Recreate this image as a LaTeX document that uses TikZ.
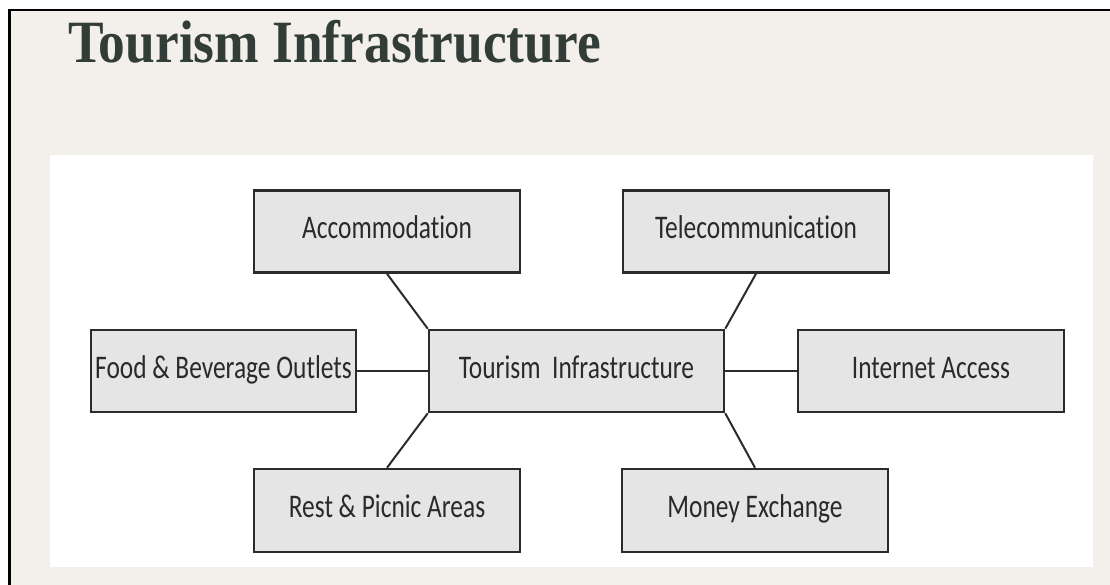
\documentclass[tikz,border=0pt]{standalone}
\usepackage{fontspec}
\newfontfamily\titlefont[FakeStretch=0.89]{Liberation Serif}
\newfontfamily\boxfont[FakeStretch=0.77,Ligatures=NoCommon]{Carlito}
\definecolor{pagebg}{HTML}{F3F0EC}
\definecolor{titlecol}{HTML}{333D37}
\definecolor{boxfill}{HTML}{E5E5E5}
\definecolor{boxline}{HTML}{2B2B2B}
\definecolor{boxtext}{HTML}{2A2A2A}
\tikzset{
  ibox/.style={draw=boxline, fill=boxfill, line width=2.5pt, inner sep=0pt,
    minimum height=82pt, text=boxtext, font=\boxfont\fontsize{33}{33}\selectfont,
    text height=20pt, text depth=5.5pt},
  conn/.style={draw=boxline, line width=2pt}
}
\begin{document}
\begin{tikzpicture}[x=1pt,y=-1pt]
\useasboundingbox (0,0) rectangle (1110,585);
\fill[white] (0,0) rectangle (1110,585);
\fill[pagebg] (9,9) rectangle (1110,585);
\draw[black, line width=2.5pt] (9.5,585) -- (9.5,10) -- (1110,10);
\fill[white] (50,155) rectangle (1093,567);
\node[anchor=base west, inner sep=0pt, text=titlecol, font=\titlefont\bfseries\fontsize{60}{60}\selectfont] (title) at (68,63) {Tourism Infrastructure};
\node[ibox, minimum width=266pt] (acc) at (387,231.5) {Accommodation};
\node[ibox, minimum width=266pt] (tel) at (756,231.5) {Telecommunication};
\node[ibox, minimum width=265pt] (food) at (223.5,371) {Food \& Beverage Outlets};
\node[ibox, minimum width=295pt] (ti) at (576.5,371) {Tourism\ \ Infrastructure};
\node[ibox, minimum width=266pt] (net) at (931,371) {Internet Access};
\node[ibox, minimum width=266pt, minimum height=83pt] (rest) at (387,510.5) {Rest \& Picnic Areas};
\node[ibox, minimum width=266pt, minimum height=83pt] (money) at (755,510.5) {Money Exchange};
\draw[conn] (acc.south) -- (ti.north west);
\draw[conn] (tel.south) -- (ti.north east);
\draw[conn] (food.east) -- (ti.west);
\draw[conn] (ti.east) -- (net.west);
\draw[conn] (rest.north) -- (ti.south west);
\draw[conn] (money.north) -- (ti.south east);
\end{tikzpicture}
\end{document}
